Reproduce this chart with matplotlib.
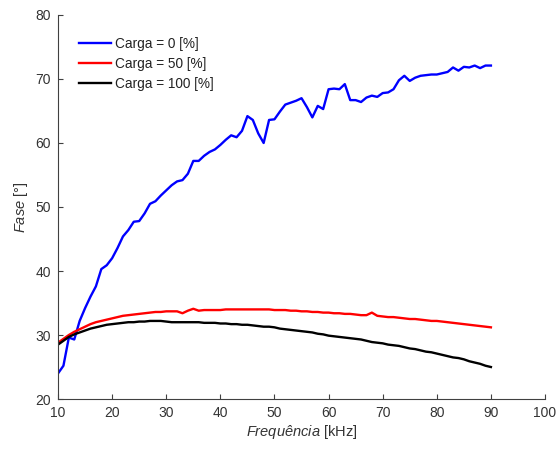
import numpy as np
import matplotlib
matplotlib.use('Agg')
import matplotlib.pyplot as plt

plt.rcParams['font.family'] = ['Liberation Sans', 'DejaVu Sans']
plt.rcParams['mathtext.fontset'] = 'custom'
plt.rcParams['mathtext.rm'] = 'Liberation Sans'
plt.rcParams['mathtext.it'] = 'Liberation Sans:italic'

# frequency sweep [kHz]
freq = np.arange(10, 91)

# phase [deg] for each load level
fase_0 = [24.0, 25.2, 29.6, 29.3, 32.2, 34.2, 36.0, 37.6, 40.3, 40.9,
          42.0, 43.6, 45.4, 46.4, 47.7, 47.8, 49.0, 50.5, 50.9, 51.8,
          52.6, 53.4, 54.0, 54.2, 55.2, 57.2, 57.2, 58.0, 58.6, 59.0,
          59.7, 60.5, 61.2, 60.9, 61.9, 64.2, 63.6, 61.5, 60.0, 63.6,
          63.7, 64.9, 66.0, 66.3, 66.6, 67.0, 65.6, 64.0, 65.8, 65.3,
          68.4, 68.5, 68.4, 69.2, 66.7, 66.7, 66.4, 67.1, 67.4, 67.2,
          67.8, 67.9, 68.4, 69.8, 70.5, 69.7, 70.2, 70.5, 70.6, 70.7,
          70.7, 70.9, 71.1, 71.8, 71.3, 71.9, 71.8, 72.1, 71.7, 72.1,
          72.1]
fase_50 = [28.8, 29.4, 30.0, 30.5, 30.9, 31.3, 31.7, 32.0, 32.2, 32.4,
           32.6, 32.8, 33.0, 33.1, 33.2, 33.3, 33.4, 33.5, 33.6, 33.6,
           33.7, 33.7, 33.7, 33.4, 33.8, 34.1, 33.8, 33.9, 33.9, 33.9,
           33.9, 34.0, 34.0, 34.0, 34.0, 34.0, 34.0, 34.0, 34.0, 34.0,
           33.9, 33.9, 33.9, 33.8, 33.8, 33.7, 33.7, 33.6, 33.6, 33.5,
           33.5, 33.4, 33.4, 33.3, 33.3, 33.2, 33.1, 33.1, 33.5, 33.0,
           32.9, 32.8, 32.8, 32.7, 32.6, 32.5, 32.5, 32.4, 32.3, 32.2,
           32.2, 32.1, 32.0, 31.9, 31.8, 31.7, 31.6, 31.5, 31.4, 31.3,
           31.2]
fase_100 = [28.5, 29.1, 29.7, 30.1, 30.4, 30.7, 31.0, 31.2, 31.4, 31.6,
            31.7, 31.8, 31.9, 32.0, 32.0, 32.1, 32.1, 32.2, 32.2, 32.2,
            32.1, 32.0, 32.0, 32.0, 32.0, 32.0, 32.0, 31.9, 31.9, 31.9,
            31.8, 31.8, 31.7, 31.7, 31.6, 31.6, 31.5, 31.4, 31.3, 31.3,
            31.2, 31.0, 30.9, 30.8, 30.7, 30.6, 30.5, 30.4, 30.2, 30.1,
            29.9, 29.8, 29.7, 29.6, 29.5, 29.4, 29.3, 29.1, 28.9, 28.8,
            28.7, 28.5, 28.4, 28.3, 28.1, 27.9, 27.8, 27.6, 27.4, 27.3,
            27.1, 26.9, 26.7, 26.5, 26.4, 26.2, 25.9, 25.7, 25.5, 25.2,
            25.0]

labels = ['Carga = 0 [%]', 'Carga = 50 [%]', 'Carga = 100 [%]']
colors = ['#0000ff', '#ff0000', '#000000']

axcol = '#404040'

fig = plt.figure(figsize=(5.59, 4.5), dpi=100)
ax = fig.add_axes([0.1038, 0.1133, 0.8712, 0.8534])

for y, lab, c in zip([fase_0, fase_50, fase_100], labels, colors):
    ax.plot(freq, y, color=c, lw=1.7, label=lab)

ax.set_xlim(10, 100)
ax.set_ylim(20, 80)
ax.set_xticks(np.arange(10, 101, 10))
ax.set_yticks(np.arange(20, 81, 10))

for s in ['top', 'right']:
    ax.spines[s].set_visible(False)
for s in ['left', 'bottom']:
    ax.spines[s].set_color(axcol)
    ax.spines[s].set_linewidth(0.8)
ax.tick_params(direction='in', length=3.5, width=0.8, color=axcol,
               labelcolor='#333333', labelsize=10, pad=5)

ax.set_xlabel(r'$\it{Frequência}$ [kHz]', fontsize=10.5, color='#333333', labelpad=2)
ax.set_ylabel(r'$\it{Fase}$ [°]', fontsize=10.5, color='#333333', labelpad=4)

leg = ax.legend(loc='upper left', frameon=False, fontsize=9.8,
                handlelength=2.4, handletextpad=0.25, labelspacing=0.45,
                bbox_to_anchor=(0.017, 0.975))
for t in leg.get_texts():
    t.set_color('#222222')

fig.savefig('out.png', dpi=100)
